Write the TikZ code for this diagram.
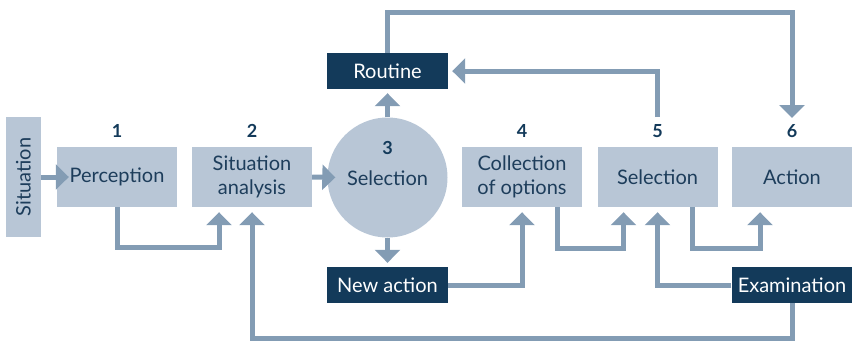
\documentclass[tikz,border=0pt]{standalone}
\usepackage{fontspec}
\setmainfont{Lato}
\usetikzlibrary{arrows.meta}

\definecolor{boxblue}{HTML}{B8C6D6}
\definecolor{darkblue}{HTML}{133A5A}
\definecolor{arrowblue}{HTML}{839CB4}
\definecolor{textblue}{HTML}{1D3D5B}

\tikzset{
  stage/.style={fill=boxblue, text=textblue, minimum width=120pt, minimum height=60pt,
    align=center, inner sep=0pt, font=\fontsize{20}{24}\selectfont},
  outcome/.style={fill=darkblue, text=white, minimum width=121pt, minimum height=36pt,
    inner sep=0pt, font=\fontsize{20}{24}\selectfont},
  stepnum/.style={text=darkblue, font=\fontsize{18}{20}\selectfont\bfseries},
  flow/.style={arrowblue, line width=5pt, -{Triangle[width=25pt,length=13pt]}}
}

\begin{document}
\begin{tikzpicture}[x=1pt,y=-1pt]
\useasboundingbox (0,0) rectangle (852,341);

%boxes
\node[stage, minimum width=35pt, minimum height=120pt] (situation) at (23.5,177) {\rotatebox{90}{Situation}};
\node[stage] (perception) at (117,177) {Perception};
\node[stage] (analysis) at (252,177) {Situation\\analysis};
\node[circle, fill=boxblue, minimum size=120pt] (choice) at (387.5,177.5) {};
\node[stage, fill=none] (choicetext) at (387.5,178) {Selection};
\node[stage] (options) at (522,177) {Collection\\of options};
\node[stage] (selection) at (657.5,177) {Selection};
\node[stage] (action) at (792,177) {Action};

\node[outcome] (routine) at (387.5,71) {Routine};
\node[outcome] (newaction) at (387.5,285) {New action};
\node[outcome] (exam) at (792,285) {Examination};

%step numbers
\node[stepnum] (num1) at (117,131) {1};
\node[stepnum] (num2) at (252,131) {2};
\node[stepnum] (num3) at (387.5,148) {3};
\node[stepnum] (num4) at (522,131) {4};
\node[stepnum] (num5) at (657.5,131) {5};
\node[stepnum] (num6) at (792,131) {6};

\coordinate (sel5top) at (657.5,117);
\coordinate (act6top) at (792,118);

%arrows
\draw[flow] (situation.east) -- ([xshift=12pt]perception.west);
\draw[flow] (analysis.east) -- ([xshift=8pt]choice.west);
\draw[flow, shorten >=4pt] (choice.north) -- (routine.south);
\draw[flow, shorten >=4pt] (choice.south) -- (newaction.north);
\draw[flow, shorten >=5pt] (perception.south) -- ++(0,40) -| ([xshift=-33pt]analysis.south);
\draw[flow, shorten >=5pt] (exam.south) -- ++(0,35) -| (analysis.south);
\draw[flow, shorten >=5pt] (newaction.east) -| (options.south);
\draw[flow, shorten >=5pt] ([xshift=35pt]options.south) -- ++(0,41) -| ([xshift=-34pt]selection.south);
\draw[flow, shorten >=5pt] ([xshift=35pt]selection.south) -- ++(0,41) -| ([xshift=-32pt]action.south);
\draw[flow, shorten >=5pt] (exam.west) -| (selection.south);
\draw[flow, shorten >=4pt] (sel5top) |- (routine.east);
\draw[flow] (routine.north) -- ++(0,-40) -| (act6top);
\end{tikzpicture}
\end{document}
